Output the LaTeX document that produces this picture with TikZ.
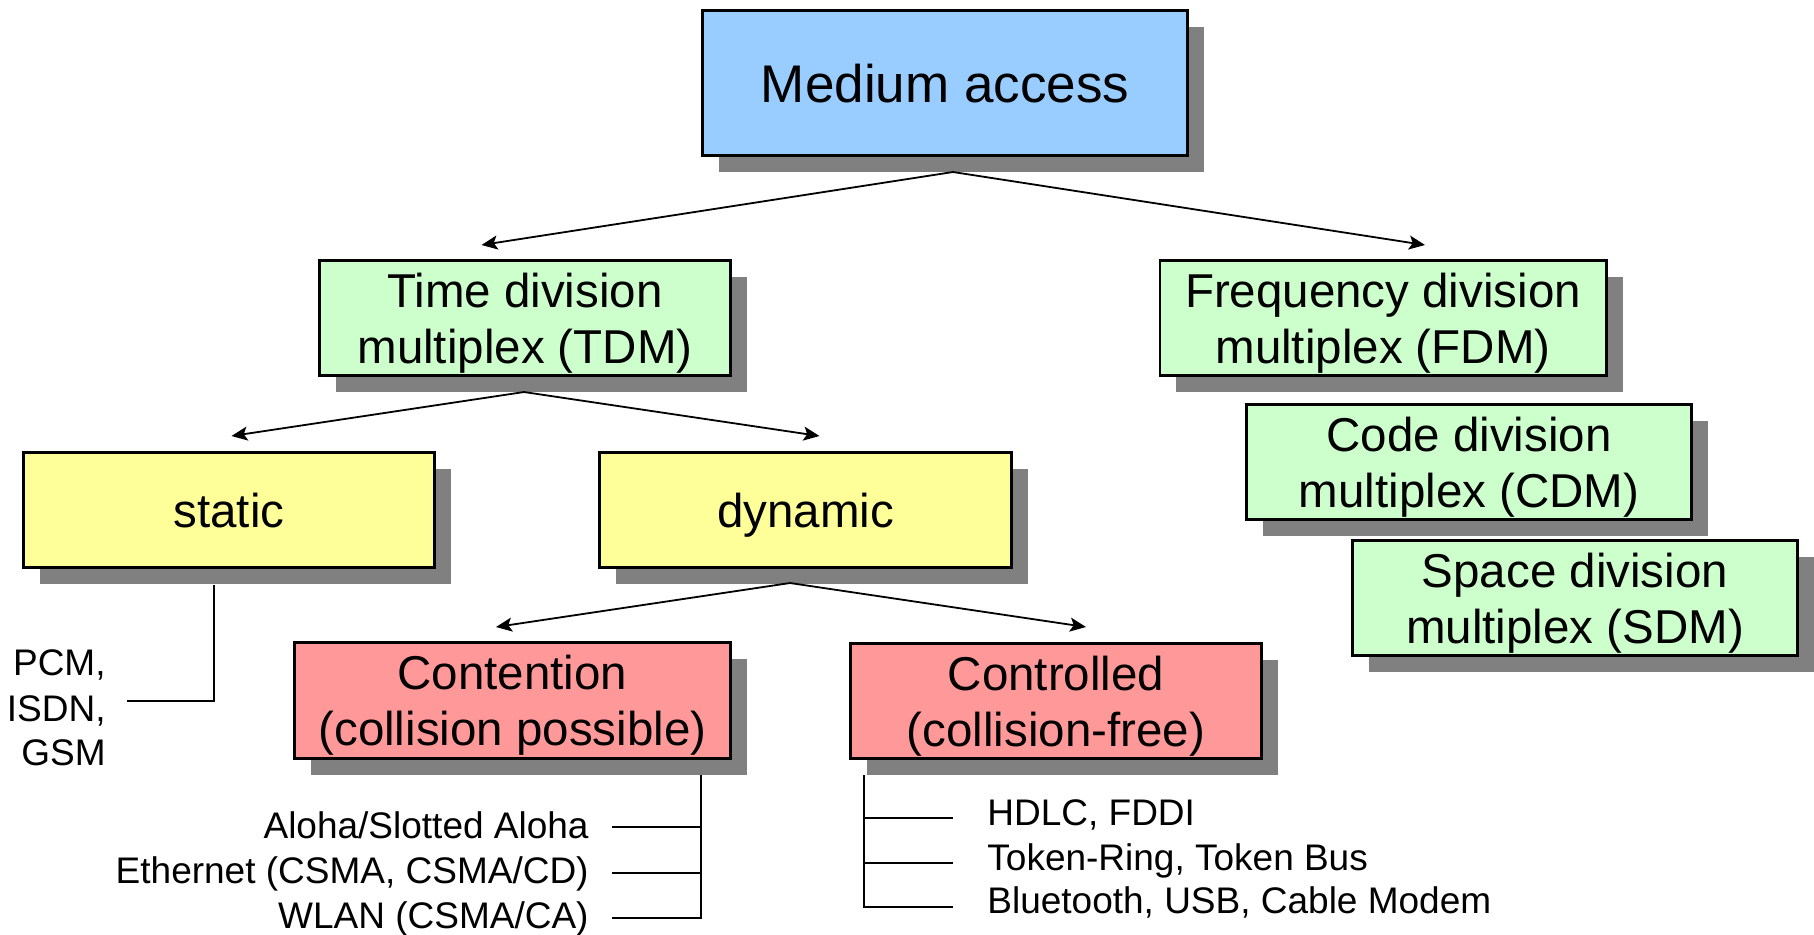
\documentclass[tikz,border=0pt]{standalone}
\usepackage{fontspec}
\setmainfont{Liberation Sans}
\usetikzlibrary{shadows,arrows.meta}

\definecolor{mablue}{HTML}{99CCFF}
\definecolor{mdgreen}{HTML}{CCFFCC}
\definecolor{mdyellow}{HTML}{FFFF99}
\definecolor{mdred}{HTML}{FF9999}
\definecolor{mdshadow}{HTML}{808080}

\newcommand\titlesize{\fontsize{26.5pt}{31pt}\selectfont}
\newcommand\boxsize{\fontsize{23.75pt}{28pt}\selectfont}
\newcommand\listsize{\fontsize{18.5pt}{22pt}\selectfont}
% bottom line of a box label: its descenders do not count for centring
\newcommand\nodepth[1]{\raisebox{0pt}[\height][0pt]{#1}}

\begin{document}
\begin{tikzpicture}[x=0.5pt,y=-0.5pt,
  box/.style={draw=black, line width=1.3pt, inner sep=0pt, align=center,
    font=\boxsize, minimum height=57.7pt,
    drop shadow={shadow xshift=8.25pt, shadow yshift=-8.25pt, fill=mdshadow, opacity=1}},
  arr/.style={line width=0.9pt, -{Stealth[length=8pt,width=7pt,inset=1.8pt]}},
  wire/.style={line width=1.2pt},
  listtext/.style={inner sep=0pt, font=\listsize}]

\useasboundingbox (0,0) rectangle (1814,934);

% root
\node[box, fill=mablue, font=\titlesize, minimum width=242.7pt, minimum height=72.7pt]
  (med) at (945,83) {\nodepth{Medium access}};

% first level
\node[box, fill=mdgreen, minimum width=205.7pt] (tdm) at (525,318) {Time division\\\nodepth{multiplex (TDM)}};
\node[box, fill=mdgreen, minimum width=223.2pt] (fdm) at (1383,318) {Frequency division\\\nodepth{multiplex (FDM)}};
\node[box, fill=mdgreen, minimum width=222.7pt] (cdm) at (1469,462) {Code division\\\nodepth{multiplex (CDM)}};
\node[box, fill=mdgreen, minimum width=222.7pt] (sdm) at (1575,598) {Space division\\\nodepth{multiplex (SDM)}};

% TDM branches
\node[box, fill=mdyellow, minimum width=205.7pt] (static) at (229,510) {\nodepth{static}};
\node[box, fill=mdyellow, minimum width=206.2pt] (dynamic) at (805.5,510) {\nodepth{dynamic}};

% dynamic branches
\node[box, fill=mdred, minimum width=218.2pt, minimum height=58.2pt] (contention) at (512.5,700.5) {Contention\\\nodepth{(collision possible)}};
\node[box, fill=mdred, minimum width=205.7pt] (controlled) at (1056,701) {Controlled\\\nodepth{(collision-free)}};

% fork points and arrow targets
\coordinate (medfork) at (953,172);
\coordinate (tdmin) at (481.5,245);
\coordinate (fdmin) at (1425,245);
\coordinate (tdmfork) at (524,392);
\coordinate (staticin) at (231.5,436);
\coordinate (dynin) at (819.5,436);
\coordinate (dynfork) at (790,583);
\coordinate (contin) at (496,627);
\coordinate (ctrlin) at (1086,627);

\draw[arr] (medfork) -- (tdmin);
\draw[arr] (medfork) -- (fdmin);
\draw[arr] (tdmfork) -- (staticin);
\draw[arr] (tdmfork) -- (dynin);
\draw[arr] (dynfork) -- (contin);
\draw[arr] (dynfork) -- (ctrlin);

% examples for static
\node[listtext, anchor=base east] (pcm) at (106,675) {PCM,};
\node[listtext, anchor=base east] (isdn) at (106,721) {ISDN,};
\node[listtext, anchor=base east] (gsm) at (106,765) {GSM};
\coordinate (statdrop) at (214,585);
\coordinate (statend) at (127,701);
\draw[wire] (statdrop) |- (statend);

% examples for contention
\node[listtext, anchor=base east] (aloha) at (589,838) {Aloha/Slotted Aloha};
\node[listtext, anchor=base east] (ether) at (589,883) {Ethernet (CSMA, CSMA/CD)};
\node[listtext, anchor=base east] (wlan) at (589,928) {WLAN (CSMA/CA)};
\coordinate (contdrop) at (701,775);
\coordinate (c1) at (612,827);
\coordinate (c2) at (612,873);
\coordinate (c3) at (612,918);
\draw[wire] (contdrop) |- (c3);
\draw[wire] (c1) -- (c1 -| contdrop);
\draw[wire] (c2) -- (c2 -| contdrop);

% examples for controlled
\node[listtext, anchor=base west] (hdlc) at (987,825) {HDLC, FDDI};
\node[listtext, anchor=base west] (token) at (987,870) {Token-Ring, Token Bus};
\node[listtext, anchor=base west] (bt) at (987,913) {Bluetooth, USB, Cable Modem};
\coordinate (ctrldrop) at (864,775);
\coordinate (k1) at (953,818);
\coordinate (k2) at (953,863);
\coordinate (k3) at (953,907);
\draw[wire] (ctrldrop) |- (k3);
\draw[wire] (k1 -| ctrldrop) -- (k1);
\draw[wire] (k2 -| ctrldrop) -- (k2);

\end{tikzpicture}
\end{document}
